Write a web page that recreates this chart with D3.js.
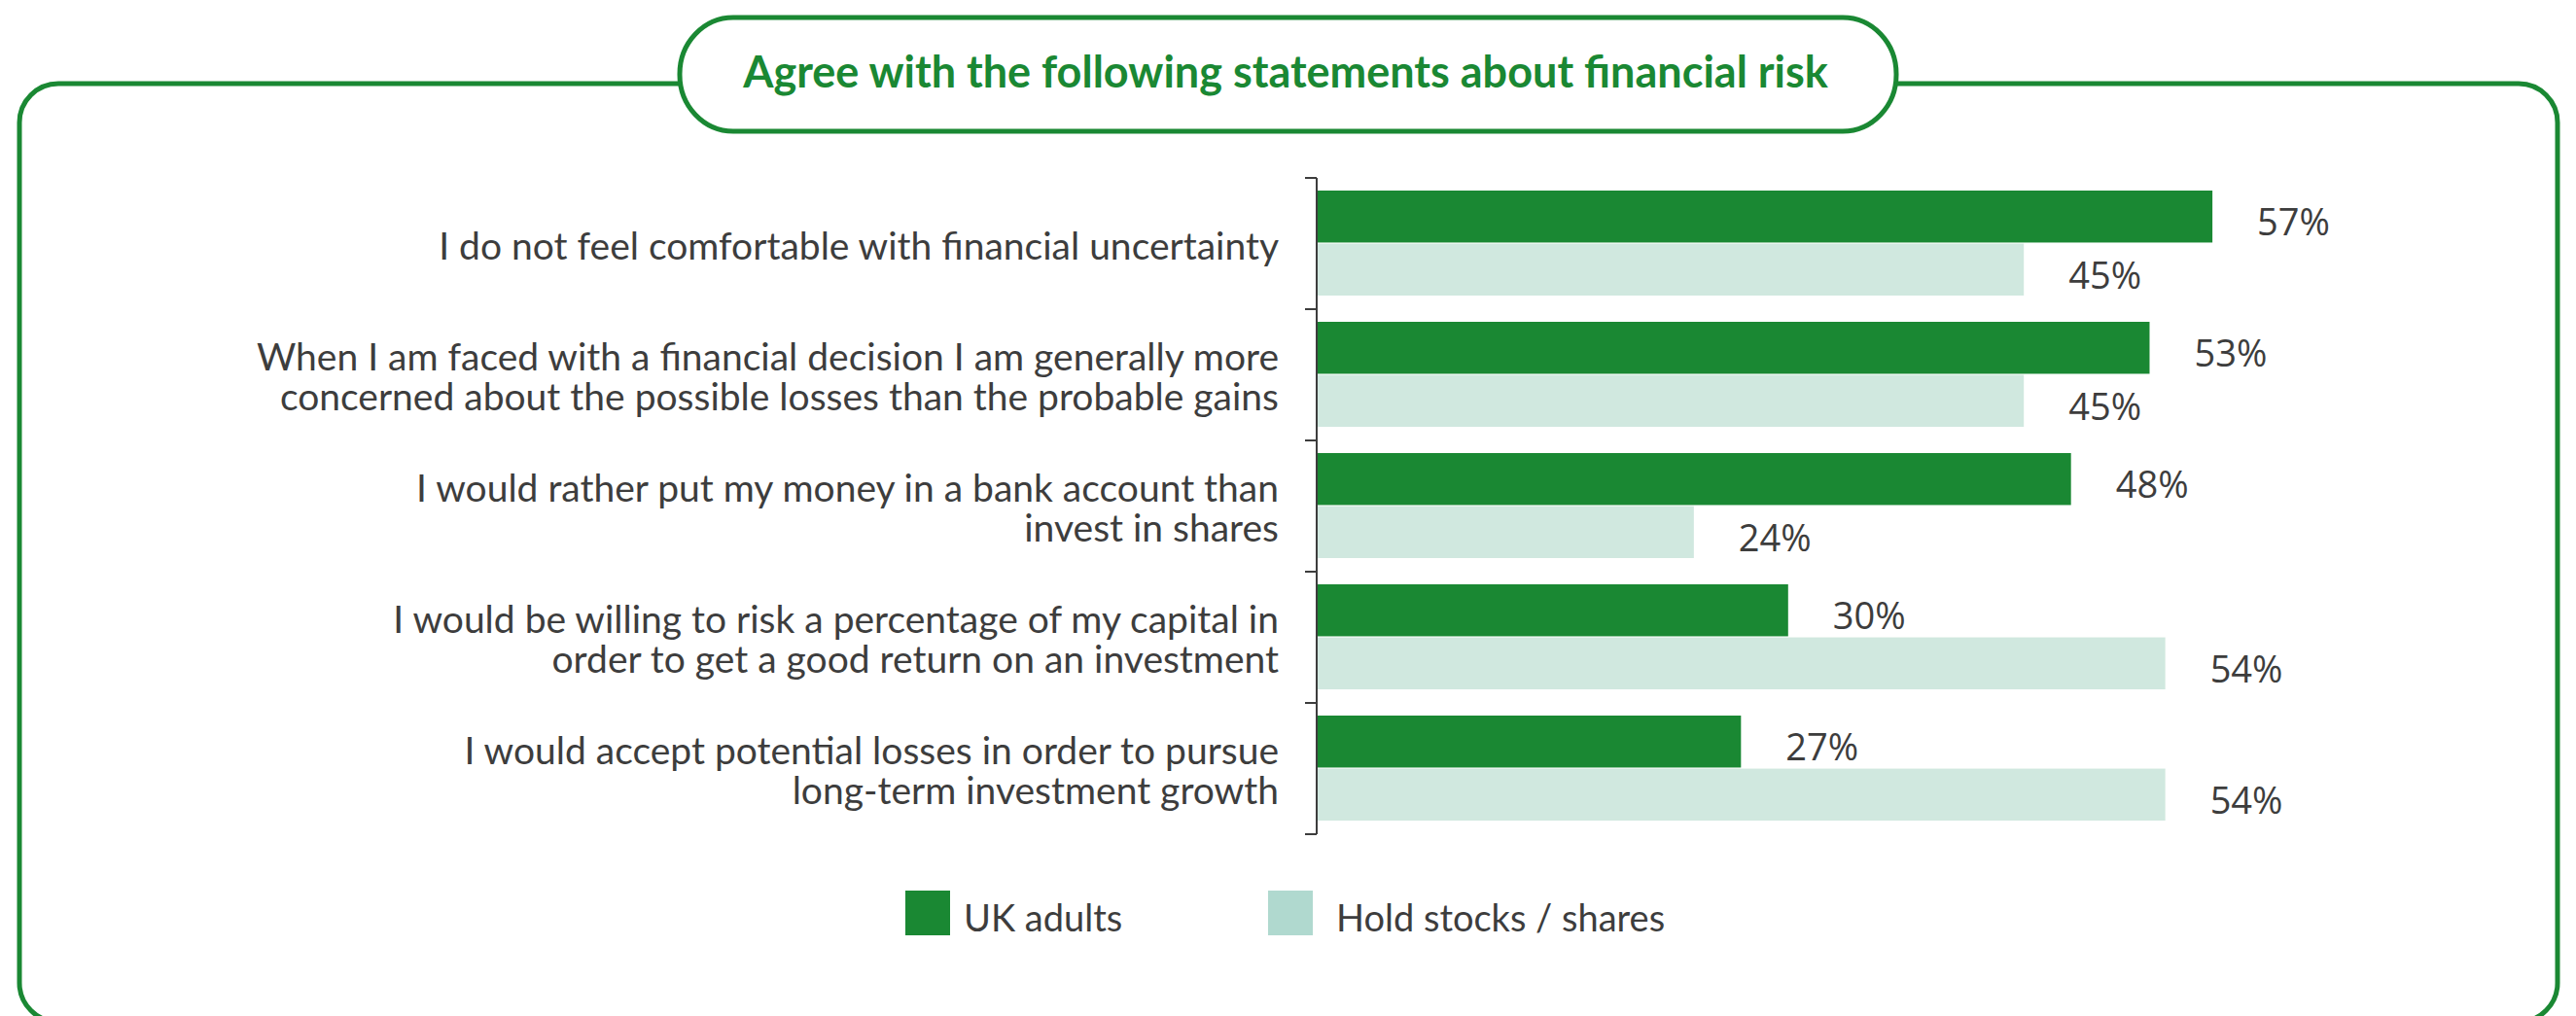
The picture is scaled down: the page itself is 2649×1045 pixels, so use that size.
<!DOCTYPE html>
<html>
<head>
<meta charset="utf-8">
<script src="https://cdn.jsdelivr.net/npm/d3@7"></script>
<style>
  html, body { margin: 0; padding: 0; background: #ffffff; }
  svg { display: block; }
</style>
</head>
<body>
<script>
// Survey statements (each entry is the list of wrapped lines)
const categories = [
  ["I do not feel comfortable with financial uncertainty"],
  ["When I am faced with a financial decision I am generally more",
   "concerned about the possible losses than the probable gains"],
  ["I would rather put my money in a bank account than",
   "invest in shares"],
  ["I would be willing to risk a percentage of my capital in",
   "order to get a good return on an investment"],
  ["I would accept potential losses in order to pursue",
   "long-term investment growth"]
];
const seriesNames = ["UK adults", "Hold stocks / shares"];
const ukAdults = [57, 53, 48, 30, 27];
const holdStocks = [45, 45, 24, 54, 54];
const titleText = "Agree with the following statements about financial risk";

const W = 2649, H = 1045;
const GREEN = "#1a8833";
const LIGHT = "#d0e8df";
const LIGHT_KEY = "#b0d9cf";
const TEXT = "#3d3d3d";
const barColors = [GREEN, LIGHT];
const keyColors = [GREEN, LIGHT_KEY];

const svg = d3.select("body").append("svg")
  .attr("width", W).attr("height", H);

// Outer rounded frame
svg.append("rect")
  .attr("x", 20).attr("y", 86)
  .attr("width", 2610).attr("height", 965)
  .attr("rx", 40).attr("ry", 40)
  .attr("fill", "none")
  .attr("stroke", GREEN).attr("stroke-width", 5);

// Title pill sitting on top of the frame
svg.append("rect")
  .attr("x", 699).attr("y", 18)
  .attr("width", 1251).attr("height", 117)
  .attr("rx", 55).attr("ry", 58)
  .attr("fill", "#ffffff")
  .attr("stroke", GREEN).attr("stroke-width", 5);

svg.append("text")
  .attr("x", 1322).attr("y", 90)
  .attr("text-anchor", "middle")
  .attr("font-family", "Lato, 'Open Sans', sans-serif")
  .attr("font-weight", 700)
  .attr("font-size", 45)
  .attr("fill", GREEN)
  .text(titleText);

// Scales
const keys = categories.map((c, i) => i);
const y0 = d3.scaleBand().domain(keys).range([183, 858]).padding(0);
const y1 = d3.scaleBand().domain([0, 1]).range([13, 121]).paddingInner(0.02);
const x = d3.scaleLinear().domain([0, 60]).range([1354, 1354 + 16.16 * 60]);

const rows = keys.map(i => ({ i, lines: categories[i], vals: [ukAdults[i], holdStocks[i]] }));

const g = svg.append("g");

const row = g.selectAll("g.row").data(rows).join("g")
  .attr("class", "row")
  .attr("transform", d => `translate(0,${y0(d.i)})`);

// Bars
row.selectAll("rect").data(d => d.vals.map((v, s) => ({ v, s }))).join("rect")
  .attr("x", x(0))
  .attr("y", d => y1(d.s))
  .attr("width", d => x(d.v) - x(0))
  .attr("height", y1.bandwidth())
  .attr("fill", d => barColors[d.s]);

// Value labels
row.selectAll("text.val").data(d => d.vals.map((v, s) => ({ v, s }))).join("text")
  .attr("class", "val")
  .attr("x", d => x(d.v) + 46)
  .attr("y", d => y1(d.s) + y1.bandwidth() / 2 + 19.5)
  .attr("font-family", "'Open Sans', sans-serif")
  .attr("font-size", 38)
  .attr("fill", TEXT)
  .text(d => d.v + "%");

// Category labels, right-aligned against the axis
const lineGap = 41;
row.append("text")
  .attr("text-anchor", "end")
  .attr("font-family", "Lato, 'Open Sans', sans-serif")
  .attr("font-size", 39)
  .attr("fill", TEXT)
  .selectAll("tspan").data(d => d.lines.map((t, k) => ({ t, k, n: d.lines.length }))).join("tspan")
  .attr("x", x(0) - 39)
  .attr("y", d => y0.bandwidth() / 2 + 16 + (d.k - (d.n - 1) / 2) * lineGap)
  .text(d => d.t);

// Axis: vertical rule with ticks on the band boundaries
const edges = keys.map(i => y0(i)).concat([y0.range()[1]]);
const axis = svg.append("g").attr("stroke", TEXT).attr("stroke-width", 2);
axis.append("line")
  .attr("x1", x(0)).attr("x2", x(0))
  .attr("y1", y0.range()[0]).attr("y2", y0.range()[1]);
axis.selectAll("line.tick").data(edges).join("line")
  .attr("class", "tick")
  .attr("x1", x(0) - 12).attr("x2", x(0))
  .attr("y1", d => d).attr("y2", d => d);

// Legend
const legendX = [931, 1304];
const legendTextGap = [60, 70];
const legend = svg.append("g").selectAll("g").data(seriesNames).join("g")
  .attr("transform", (d, i) => `translate(${legendX[i]},916)`);
legend.append("rect")
  .attr("width", 46).attr("height", 46)
  .attr("fill", (d, i) => keyColors[i]);
legend.append("text")
  .attr("x", (d, i) => legendTextGap[i]).attr("y", 42)
  .attr("font-family", "Lato, 'Open Sans', sans-serif")
  .attr("font-size", 38)
  .attr("fill", TEXT)
  .text(d => d);
</script>
</body>
</html>
